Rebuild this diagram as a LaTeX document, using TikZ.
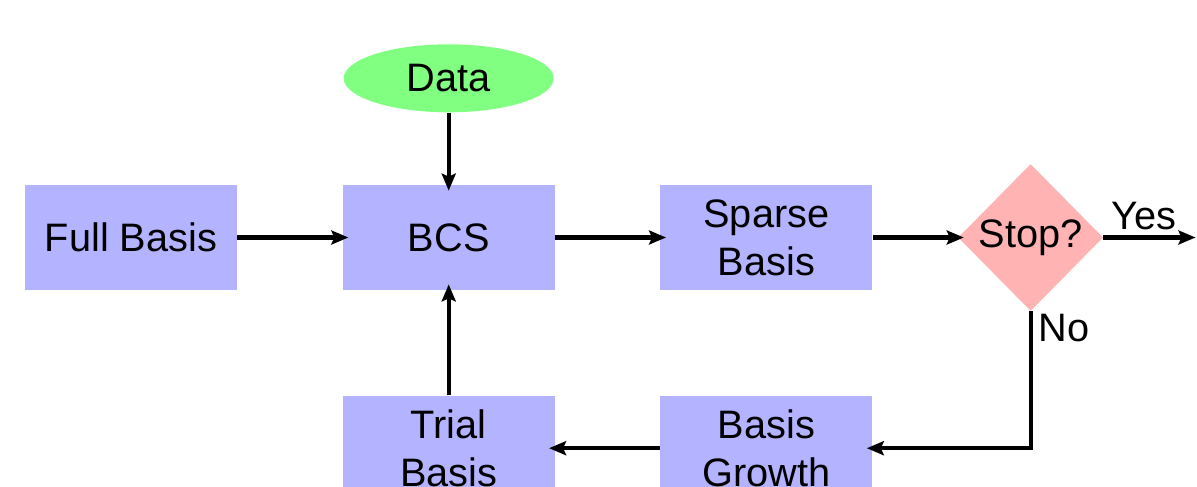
\documentclass[tikz,border=0pt]{standalone}
\usepackage{fontspec}
\setmainfont{Liberation Sans}
\usepackage{tikz}
\usepackage{xcolor}
\usetikzlibrary{positioning, arrows.meta, shapes.geometric, calc}

\definecolor{boxblue}{RGB}{179,179,255}
\definecolor{stopred}{RGB}{255,179,179}
\definecolor{datagreen}{RGB}{128,255,128}

\begin{document}
\begin{tikzpicture}[
    node distance=2.1cm and 2.1cm, % vertical and horizontal spacing
    every node/.style={font=\fontsize{22.6}{27.2}\selectfont, align=center},
    box/.style={fill=boxblue, minimum width=4.24cm, minimum height=2.1cm, inner sep=0pt},
    arr/.style={line width=2.4pt, -{Stealth[length=0.34cm, width=0.28cm, inset=0.06cm]}, shorten >=-0.12cm}
]
    \useasboundingbox (0,0) rectangle (23.94,9.72);

    % Place the nodes
    \node (full) [box] at (2.62,4.97) {Full Basis};
    \node (bcs) [box, right=of full] {BCS};
    \node (sparse) [box, right=of bcs] {Sparse\\Basis};
    \node (stop) [diamond, fill=stopred, minimum width=2.9cm, minimum height=2.94cm,
        inner sep=0pt, right=1.7cm of sparse] {Stop?};
    \node (data) [ellipse, fill=datagreen, minimum width=4.2cm, minimum height=1.36cm,
        inner sep=0pt, above=1.44cm of bcs] {Data};
    \node (trial) [box, below=of bcs] {Trial\\Basis};
    \node (growth) [box, below=of sparse] {Basis\\Growth};
    \coordinate (yesend) at ($(stop.east)+(1.84,0)$);

    % Draw the edges
    \draw [arr] (full) -- (bcs);
    \draw [arr] (data) -- (bcs);
    \draw [arr] (bcs) -- (sparse);
    \draw [arr] (sparse) -- (stop);
    \draw [arr, shorten >=0pt] (stop.east) -- node[above, xshift=-3pt] {Yes} (yesend);
    \draw [arr] (stop.south) |- node[pos=0.06, right] {No} (growth);
    \draw [arr] (growth) -- (trial);
    \draw [arr] (trial) -- (bcs);
\end{tikzpicture}
\end{document}
